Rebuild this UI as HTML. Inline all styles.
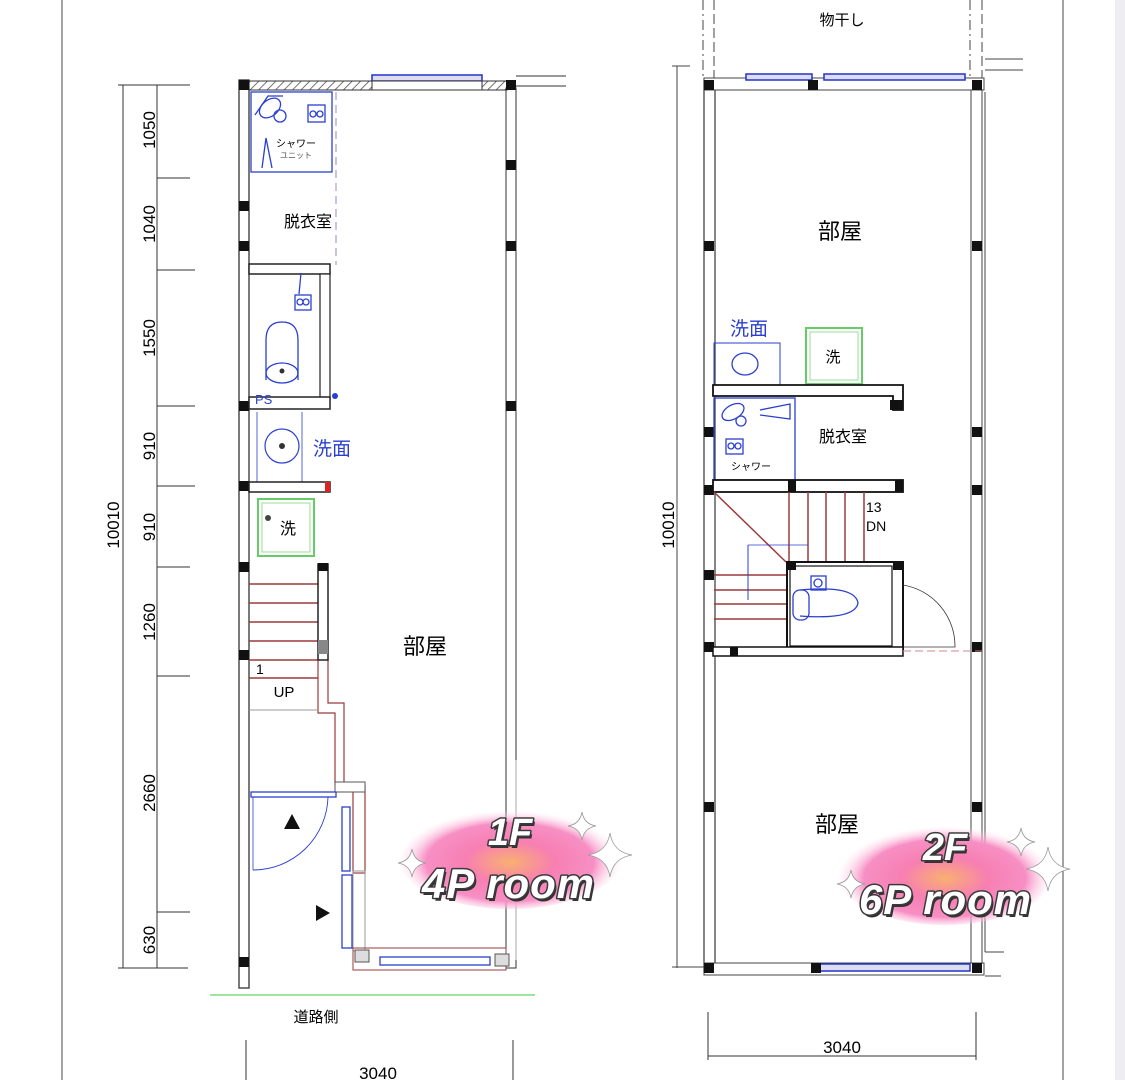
<!DOCTYPE html>
<html><head><meta charset="utf-8"><style>
html,body{margin:0;padding:0;background:#fff;}
svg{display:block;}
text{font-family:"Liberation Sans","Noto Sans CJK JP",sans-serif;}
.bt{font-family:"Liberation Sans","Noto Sans CJK JP",sans-serif;font-weight:900;font-style:italic;fill:#fff;stroke:#3a3a3a;stroke-width:3;paint-order:stroke;stroke-linejoin:round;}
.sh{font-family:"Liberation Sans","Noto Sans CJK JP",sans-serif;font-weight:900;font-style:italic;fill:#333;}
</style></head><body>
<svg width="1125" height="1080" viewBox="0 0 1125 1080" xmlns="http://www.w3.org/2000/svg">
<defs>
<pattern id="h" width="6" height="6" patternUnits="userSpaceOnUse" patternTransform="rotate(45)"><line x1="0" y1="0" x2="0" y2="6" stroke="#444" stroke-width="1.5"/></pattern>
<radialGradient id="g" cx="50%" cy="55%" r="50%"><stop offset="0" stop-color="#f9b070"/><stop offset="0.4" stop-color="#f77fb2"/><stop offset="0.75" stop-color="#f78fc4"/><stop offset="1" stop-color="#fde" stop-opacity="0"/></radialGradient>
<g id="col"><rect x="-5" y="-5" width="10" height="10" fill="#111"/></g>
<g id="spk"><path d="M0,-14 Q2,-2 14,0 Q2,2 0,14 Q-2,2 -14,0 Q-2,-2 0,-14Z" fill="#fff" stroke="#999" stroke-width="0.8"/></g>
<g id="spkb"><path d="M0,-22 Q3,-3 22,0 Q3,3 0,22 Q-3,3 -22,0 Q-3,-3 0,-22Z" fill="#fff" stroke="#999" stroke-width="0.8"/></g>
</defs>
<rect width="1125" height="1080" fill="#fff"/>
<line x1="62" y1="0" x2="62" y2="1080" stroke="#666" stroke-width="1.2"/>
<line x1="1063" y1="0" x2="1063" y2="1080" stroke="#666" stroke-width="1.2"/>
<rect x="1115" y="0" width="10" height="1080" fill="#eeeef2"/>

<!-- ===== 1F ===== -->
<g stroke="#333" fill="none" stroke-width="1">
<line x1="123" y1="85" x2="123" y2="968"/>
<line x1="157" y1="85" x2="157" y2="968"/>
<line x1="118" y1="85" x2="190" y2="85"/>
<line x1="157" y1="178" x2="190" y2="178"/><line x1="157" y1="270" x2="195" y2="270"/>
<line x1="157" y1="406" x2="195" y2="406"/><line x1="157" y1="486" x2="195" y2="486"/>
<line x1="157" y1="567" x2="190" y2="567"/><line x1="157" y1="676" x2="190" y2="676"/>
<line x1="157" y1="912" x2="190" y2="912"/><line x1="118" y1="968" x2="188" y2="968"/>
<rect x="239" y="80" width="10" height="908" fill="#fff" stroke-width="1.3"/>
<rect x="506" y="88" width="10" height="880" fill="#fff"/>
<line x1="516" y1="76" x2="566" y2="76"/><line x1="516" y1="86" x2="566" y2="86"/>
</g>
<rect x="249" y="81" width="123" height="9" fill="url(#h)" stroke="#333"/>
<rect x="482" y="81" width="25" height="9" fill="url(#h)" stroke="#333"/>
<rect x="372" y="75" width="110" height="6" fill="#dde" stroke="#2233cc" stroke-width="1.5"/>
<rect x="372" y="81" width="110" height="9" fill="#fff" stroke="#333"/>
<g>
<use href="#col" x="244" y="85"/><use href="#col" x="511" y="85"/><use href="#col" x="511" y="165"/>
<use href="#col" x="244" y="206"/><use href="#col" x="244" y="246"/><use href="#col" x="511" y="246"/>
<use href="#col" x="244" y="406"/><use href="#col" x="511" y="406"/><use href="#col" x="244" y="486"/>
<use href="#col" x="244" y="567"/><use href="#col" x="244" y="655"/><use href="#col" x="244" y="962"/>
</g>
<g stroke="#2a3fd0" fill="none" stroke-width="1.3">
<rect x="251" y="92" width="81" height="80"/>
<rect x="308" y="105" width="17" height="17"/><circle cx="313" cy="114" r="3"/><circle cx="320" cy="114" r="3"/>
<path d="M255,115 L268,96 L283,96"/><ellipse cx="270" cy="108" rx="12" ry="8" transform="rotate(-40 270 108)"/><circle cx="280" cy="116" r="6"/>
<path d="M262,168 L266,138 L272,168"/>
</g>
<text x="296" y="147" font-size="10" text-anchor="middle">シャワー</text>
<text x="296" y="158" font-size="8" text-anchor="middle" fill="#555">ユニット</text>
<line x1="336" y1="92" x2="336" y2="265" stroke="#a080c8" stroke-dasharray="8,5"/>
<text x="308" y="227" font-size="16" text-anchor="middle">脱衣室</text>
<g stroke="#222" fill="#fff">
<rect x="249" y="264" width="81" height="10" stroke-width="1.5"/>
<rect x="320" y="274" width="10" height="125" stroke-width="1.2"/>
<rect x="249" y="397" width="81" height="12" stroke-width="1.5"/>
</g>
<g stroke="#2a3fd0" fill="none" stroke-width="1.3">
<rect x="295" y="295" width="16" height="15"/><circle cx="300" cy="302" r="3"/><circle cx="306" cy="302" r="3"/>
<path d="M266,380 L266,340 Q266,322 282,322 Q298,322 298,340 L298,380"/>
<ellipse cx="282" cy="373" rx="16" ry="10"/>
<line x1="301" y1="273" x2="299" y2="294"/>
</g>
<circle cx="282" cy="371" r="2.5" fill="#333"/>
<circle cx="335" cy="396" r="3" fill="#2a3fd0"/>
<text x="255" y="404" font-size="13" fill="#2a3fd0">PS</text>
<g stroke="#2a3fd0" fill="none" stroke-width="1.2">
<line x1="257" y1="412" x2="257" y2="482" stroke-width="0.8"/><line x1="302" y1="412" x2="302" y2="482" stroke-width="0.8"/>
<circle cx="282" cy="446" r="17"/>
</g>
<circle cx="282" cy="446" r="3" fill="#333"/>
<text x="332" y="455" font-size="19" fill="#2a3fd0" text-anchor="middle">洗面</text>
<rect x="249" y="482" width="81" height="10" fill="#fff" stroke="#222" stroke-width="1.5"/>
<rect x="325" y="482" width="5" height="10" fill="#d22"/>
<rect x="258" y="499" width="56" height="57" fill="none" stroke="#6c6" stroke-width="2"/>
<rect x="262" y="503" width="48" height="49" fill="none" stroke="#9d9" stroke-width="1"/>
<circle cx="268" cy="518" r="3" fill="#444"/>
<text x="288" y="534" font-size="16" text-anchor="middle">洗</text>
<g stroke="#9b3a3a" stroke-width="1.5" fill="none">
<line x1="249" y1="584" x2="318" y2="584"/><line x1="249" y1="603" x2="318" y2="603"/>
<line x1="249" y1="622" x2="318" y2="622"/><line x1="249" y1="641" x2="318" y2="641"/>
<line x1="249" y1="660" x2="318" y2="660"/><line x1="249" y1="678" x2="318" y2="678"/>
<path d="M318,660 L318,713 L335,713 L335,785" stroke-width="1.2"/>
<path d="M328,660 L328,703 L344,703 L344,785" stroke-width="1.2"/>
<rect x="353" y="785" width="12" height="88" stroke-width="1.2"/>
</g>
<rect x="318" y="564" width="10" height="96" fill="#fff" stroke="#222" stroke-width="1.5"/>
<rect x="318" y="563" width="10" height="8" fill="#111"/>
<rect x="318" y="640" width="10" height="14" fill="#888"/>
<line x1="249" y1="710" x2="318" y2="710" stroke="#999"/>
<text x="256" y="674" font-size="14">1</text>
<text x="284" y="697" font-size="15" text-anchor="middle">UP</text>
<rect x="335" y="782" width="30" height="10" fill="#fff" stroke="#555"/>
<g stroke="#2a3fd0" fill="none" stroke-width="1.3">
<rect x="251" y="792" width="85" height="5"/>
<path d="M253,870 L253,797" stroke-width="0.8"/>
<path d="M253,870 A75,75 0 0 0 328,797" stroke-width="0.9"/>
<rect x="342" y="807" width="8" height="64"/>
<rect x="342" y="875" width="10" height="73"/>
<rect x="380" y="957" width="110" height="8"/>
</g>
<polygon points="292,814 284,829 300,829" fill="#111"/>
<polygon points="316,905 316,921 330,913" fill="#111"/>
<rect x="353" y="871" width="12" height="80" fill="none" stroke="#999"/>
<rect x="353" y="948" width="153" height="22" fill="none" stroke="#9b3a3a" stroke-width="1"/>
<rect x="355" y="950" width="14" height="12" fill="#ddd" stroke="#555"/>
<rect x="495" y="954" width="14" height="12" fill="#ddd" stroke="#555"/>
<line x1="516" y1="760" x2="516" y2="960" stroke="#aaa"/>
<text x="425" y="654" font-size="22" text-anchor="middle">部屋</text>
<line x1="210" y1="995" x2="535" y2="995" stroke="#9de69d" stroke-width="2"/>
<text x="316" y="1022" font-size="15" text-anchor="middle">道路側</text>
<line x1="246" y1="1040" x2="246" y2="1080" stroke="#333"/>
<line x1="513" y1="1040" x2="513" y2="1080" stroke="#333"/>
<text x="378" y="1079" font-size="17" text-anchor="middle">3040</text>
<g font-size="17" text-anchor="middle">
<text transform="translate(155,130) rotate(-90)">1050</text>
<text transform="translate(155,224) rotate(-90)">1040</text>
<text transform="translate(155,338) rotate(-90)">1550</text>
<text transform="translate(155,446) rotate(-90)">910</text>
<text transform="translate(155,527) rotate(-90)">910</text>
<text transform="translate(155,622) rotate(-90)">1260</text>
<text transform="translate(155,793) rotate(-90)">2660</text>
<text transform="translate(155,940) rotate(-90)">630</text>
<text transform="translate(119,525) rotate(-90)">10010</text>
</g>

<!-- ===== 2F ===== -->
<g stroke="#444" fill="none" stroke-width="1">
<line x1="703" y1="0" x2="703" y2="78" stroke-dasharray="10,4,2,4"/>
<line x1="714" y1="0" x2="714" y2="78" stroke-dasharray="10,4"/>
<line x1="970" y1="0" x2="970" y2="78" stroke-dasharray="10,4,2,4"/>
<line x1="982" y1="0" x2="982" y2="78" stroke-dasharray="10,4"/>
<line x1="677" y1="66" x2="677" y2="968"/>
<line x1="672" y1="66" x2="690" y2="66"/>
<line x1="672" y1="967" x2="705" y2="967"/>
<rect x="704" y="80" width="11" height="892" fill="#fff" stroke-width="1.3"/>
<rect x="971" y="88" width="11" height="880" fill="#fff"/>
<line x1="985" y1="92" x2="985" y2="952"/>
<line x1="985" y1="952" x2="1004" y2="952"/>
<line x1="985" y1="59" x2="1023" y2="59"/><line x1="985" y1="70" x2="1023" y2="70"/>
<rect x="704" y="78" width="280" height="12" fill="#fff"/>
<rect x="704" y="963" width="280" height="12" fill="#fff"/>
<line x1="985" y1="976" x2="1001" y2="976"/>
</g>
<rect x="746" y="74" width="66" height="6" fill="#dde" stroke="#2233cc" stroke-width="1.5"/>
<rect x="824" y="74" width="141" height="6" fill="#dde" stroke="#2233cc" stroke-width="1.5"/>
<rect x="820" y="964" width="150" height="7" fill="#dde" stroke="#2233cc" stroke-width="1.5"/>
<text x="842" y="25" font-size="15" text-anchor="middle">物干し</text>
<g>
<use href="#col" x="709" y="85"/><use href="#col" x="977" y="85"/><use href="#col" x="813" y="85"/>
<use href="#col" x="709" y="246"/><use href="#col" x="977" y="246"/>
<use href="#col" x="709" y="432"/><use href="#col" x="977" y="432"/>
<use href="#col" x="709" y="490"/><use href="#col" x="977" y="490"/>
<use href="#col" x="709" y="575"/><use href="#col" x="709" y="647"/><use href="#col" x="977" y="647"/>
<use href="#col" x="709" y="807"/><use href="#col" x="977" y="807"/>
<use href="#col" x="709" y="968"/><use href="#col" x="977" y="968"/><use href="#col" x="816" y="968"/>
</g>
<text x="840" y="239" font-size="22" text-anchor="middle">部屋</text>
<text x="749" y="335" font-size="19" fill="#2a3fd0" text-anchor="middle">洗面</text>
<rect x="714" y="343" width="66" height="42" fill="none" stroke="#2a3fd0" stroke-width="1"/>
<ellipse cx="745" cy="364" rx="13" ry="11" fill="none" stroke="#2a3fd0" stroke-width="1.3"/>
<rect x="806" y="328" width="56" height="56" fill="none" stroke="#6c6" stroke-width="2"/>
<rect x="810" y="332" width="48" height="48" fill="none" stroke="#9d9"/>
<text x="833" y="362" font-size="15" text-anchor="middle">洗</text>
<path d="M713,385 L903,385 L903,410 L893,410 L893,396 L713,396 Z" fill="#fff" stroke="#111" stroke-width="1.8"/>
<rect x="890" y="400" width="13" height="10" fill="#111"/>
<g stroke="#2a3fd0" fill="none" stroke-width="1.3">
<rect x="714" y="398" width="81" height="82"/>
<rect x="726" y="439" width="17" height="15"/><circle cx="731" cy="446" r="3"/><circle cx="738" cy="446" r="3"/>
<ellipse cx="733" cy="412" rx="12" ry="7" transform="rotate(-30 733 412)"/><circle cx="741" cy="421" r="5"/>
<path d="M760,410 L790,404 L790,419 L760,415"/>
</g>
<text x="751" y="470" font-size="10" text-anchor="middle">シャワー</text>
<text x="843" y="442" font-size="16" text-anchor="middle">脱衣室</text>
<rect x="713" y="480" width="190" height="12" fill="#fff" stroke="#111" stroke-width="1.8"/>
<rect x="788" y="480" width="8" height="12" fill="#111"/><rect x="895" y="480" width="8" height="12" fill="#111"/>
<g stroke="#9b3a3a" stroke-width="1.5">
<line x1="789" y1="492" x2="789" y2="562"/><line x1="808" y1="492" x2="808" y2="562"/>
<line x1="826" y1="492" x2="826" y2="562"/><line x1="845" y1="492" x2="845" y2="562"/>
<line x1="864" y1="492" x2="864" y2="562"/>
<line x1="714" y1="492" x2="786" y2="562"/>
<line x1="714" y1="575" x2="786" y2="575"/><line x1="714" y1="590" x2="786" y2="590"/>
<line x1="714" y1="604" x2="786" y2="604"/><line x1="714" y1="619" x2="786" y2="619"/>
</g>
<line x1="748" y1="545" x2="748" y2="600" stroke="#2a3fd0"/>
<line x1="748" y1="545" x2="808" y2="545" stroke="#2a3fd0" stroke-width="0.8"/>
<text x="866" y="512" font-size="14">13</text>
<text x="866" y="531" font-size="14">DN</text>
<rect x="787" y="562" width="116" height="88" fill="none" stroke="#111" stroke-width="2"/>
<rect x="790" y="566" width="102" height="80" fill="none" stroke="#111" stroke-width="1.2"/>
<rect x="787" y="562" width="9" height="8" fill="#111"/><rect x="893" y="562" width="10" height="8" fill="#111"/>
<g stroke="#2a3fd0" fill="none" stroke-width="1.3">
<path d="M800,590 Q855,585 858,603 Q855,620 800,616"/>
<rect x="793" y="590" width="16" height="30" rx="7"/>
<rect x="811" y="576" width="15" height="14"/><circle cx="818" cy="583" r="4"/>
</g>
<path d="M903,585 A62,62 0 0 1 955,647 L903,647" fill="none" stroke="#333" stroke-width="0.8"/>
<rect x="713" y="647" width="190" height="9" fill="#fff" stroke="#111" stroke-width="1.5"/>
<rect x="730" y="647" width="8" height="9" fill="#111"/>
<line x1="903" y1="651" x2="985" y2="651" stroke="#c88" stroke-dasharray="8,4"/>
<text x="837" y="832" font-size="22" text-anchor="middle">部屋</text>
<line x1="708" y1="1012" x2="708" y2="1060" stroke="#333"/>
<line x1="976" y1="1012" x2="976" y2="1060" stroke="#333"/>
<line x1="708" y1="1056" x2="976" y2="1056" stroke="#333"/>
<text x="842" y="1053" font-size="17" text-anchor="middle">3040</text>
<text transform="translate(674,525) rotate(-90)" font-size="17" text-anchor="middle">10010</text>

<!-- badges -->
<ellipse cx="510" cy="857" rx="112" ry="52" fill="url(#g)"/>
<text class="sh" x="512" y="848" font-size="38" text-anchor="middle">1F</text>
<text class="bt" x="510" y="845" font-size="38" text-anchor="middle">1F</text>
<text class="sh" x="510" y="901" font-size="42" text-anchor="middle" textLength="172">4P room</text>
<text class="bt" x="508" y="898" font-size="42" text-anchor="middle" textLength="172">4P room</text>
<use href="#spk" x="582" y="826"/>
<use href="#spkb" x="610" y="855"/>
<use href="#spk" x="412" y="863"/>
<ellipse cx="945" cy="873" rx="108" ry="52" fill="url(#g)"/>
<text class="sh" x="947" y="863" font-size="38" text-anchor="middle">2F</text>
<text class="bt" x="945" y="860" font-size="38" text-anchor="middle">2F</text>
<text class="sh" x="947" y="917" font-size="42" text-anchor="middle" textLength="172">6P room</text>
<text class="bt" x="945" y="914" font-size="42" text-anchor="middle" textLength="172">6P room</text>
<use href="#spk" x="1021" y="842"/>
<use href="#spkb" x="1048" y="869"/>
<use href="#spk" x="851" y="884"/>
</svg>
</body></html>
